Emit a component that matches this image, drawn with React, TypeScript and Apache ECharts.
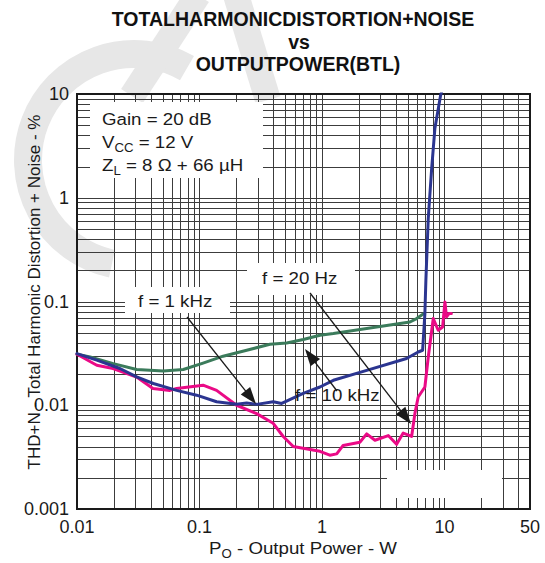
import React, { useEffect, useRef } from 'react';
import * as echarts from 'echarts';

// ---- axes ----
const X_MIN = 0.01;
const X_MAX = 50;
const Y_MIN = 0.001;
const Y_MAX = 10;
const X_GRID = [0.02, 0.03, 0.04, 0.05, 0.06, 0.07, 0.08, 0.09, 0.1, 0.2, 0.3, 0.4, 0.5, 0.6, 0.7, 0.8, 0.9, 1, 2, 3, 4, 5, 6, 7, 8, 9, 10, 20, 30, 40];
const Y_GRID = [0.002, 0.003, 0.004, 0.005, 0.006, 0.007, 0.008, 0.009, 0.01, 0.02, 0.03, 0.04, 0.05, 0.06, 0.07, 0.08, 0.09, 0.1, 0.2, 0.3, 0.4, 0.5, 0.6, 0.7, 0.8, 0.9, 1, 2, 3, 4, 5, 6, 7, 8, 9];

// ---- curves (Output power W, THD+N %) ----
const GREEN_P = [0.01, 0.0128, 0.0198, 0.0307, 0.0506, 0.0738, 0.107, 0.156, 0.243, 0.376, 0.515, 0.704, 0.963, 1.24, 2.32, 5.23, 5.93, 6.81];
const GREEN_THD = [0.031, 0.0292, 0.0252, 0.0221, 0.0214, 0.0221, 0.0255, 0.0297, 0.0339, 0.0387, 0.0398, 0.043, 0.0473, 0.0491, 0.0548, 0.0635, 0.0685, 0.0765];

const BLUE_P = [0.01, 0.0145, 0.0224, 0.0307, 0.042, 0.0651, 0.0948, 0.138, 0.201, 0.243, 0.293, 0.4, 0.469, 0.704, 0.963, 1.24, 2.32, 4.91, 6.11, 6.64, 6.93, 7.06, 7.38, 7.87, 8.36, 9.31, 9.6];
const BLUE_THD = [0.0315, 0.0272, 0.0226, 0.0188, 0.0162, 0.0139, 0.0125, 0.0108, 0.0102, 0.0105, 0.0102, 0.0108, 0.0104, 0.013, 0.015, 0.0174, 0.0217, 0.0282, 0.0326, 0.0339, 0.0765, 0.16, 0.63, 1.91, 4.64, 9.73, 11];

const PINK_P = [0.01, 0.0145, 0.0197, 0.0307, 0.0417, 0.0574, 0.0651, 0.107, 0.138, 0.201, 0.293, 0.4, 0.483, 0.583, 0.963, 1.16, 1.32, 1.49, 2.04, 2.32, 2.71, 3.48, 4.07, 4.61, 5.4, 5.74, 6.11, 6.93, 7.38, 8.11, 8.9, 9.67, 10.1, 10.4, 10.9, 11.4];
const PINK_THD = [0.031, 0.0243, 0.0226, 0.0187, 0.0145, 0.0139, 0.0145, 0.0156, 0.0139, 0.01, 0.0083, 0.0067, 0.005, 0.004, 0.0036, 0.0033, 0.0034, 0.0041, 0.0044, 0.0053, 0.0046, 0.0051, 0.0042, 0.0054, 0.005, 0.0083, 0.012, 0.015, 0.029, 0.0685, 0.0528, 0.0568, 0.099, 0.071, 0.0765, 0.0765];

const FONT = "'Liberation Sans', Arial, Helvetica, sans-serif";
const INK = '#1a1a1a';
const WATERMARK = '#e7e7e7';

function zip(a: number[], b: number[]) {
  return a.map((v, i) => [v, b[i]]);
}

function arrow(sx: number, sy: number, tx: number, ty: number) {
  const dx = tx - sx;
  const dy = ty - sy;
  const len = Math.hypot(dx, dy);
  const ux = dx / len;
  const uy = dy / len;
  const L = 17;
  const W = 6;
  const bx = tx - ux * L;
  const by = ty - uy * L;
  return [
    {
      type: 'line',
      z: 12,
      silent: true,
      shape: { x1: sx, y1: sy, x2: bx + ux * 3, y2: by + uy * 3 },
      style: { stroke: INK, lineWidth: 1.3 },
    },
    {
      type: 'polygon',
      z: 12,
      silent: true,
      shape: { points: [[tx, ty], [bx - uy * W, by + ux * W], [bx + uy * W, by - ux * W]] },
      style: { fill: INK },
    },
  ];
}

const subRich = {
  n: { fontFamily: FONT, fontSize: 17, lineHeight: 24, color: INK },
  s: { fontFamily: FONT, fontSize: 12, lineHeight: 12, color: INK, verticalAlign: 'bottom' },
};

function label(text: string, x: number, y: number, align = 'left') {
  return {
    type: 'text',
    z: 13,
    silent: true,
    x,
    y,
    scaleX: 1.1,
    style: {
      text,
      rich: subRich,
      fontFamily: FONT,
      fontSize: 17,
      fill: INK,
      align,
      verticalAlign: 'middle',
    },
  };
}

function whiteBox(x1: number, y1: number, x2: number, y2: number) {
  return {
    type: 'rect',
    z: 10,
    silent: true,
    shape: { x: x1, y: y1, width: x2 - x1, height: y2 - y1 },
    style: { fill: '#ffffff' },
  };
}

export default function App() {
  const ref = useRef<HTMLDivElement>(null);
  useEffect(() => {
    const chart = echarts.init(ref.current!, null, { renderer: 'svg' });
    const lineStyle = (color: string) => ({ color, width: 3, join: 'round', cap: 'round' });
    const axisLabel = (margin: number) => ({
      color: INK,
      fontFamily: FONT,
      fontSize: 18,
      margin,
      showMinLabel: true,
      showMaxLabel: true,
      formatter: (v: number) => String(parseFloat(Number(v).toPrecision(4))),
    });
    const deg = Math.PI / 180;
    const option: any = {
      animation: false,
      backgroundColor: '#ffffff',
      grid: {
        left: 77,
        right: 15,
        top: 94,
        bottom: 54,
        show: true,
        borderColor: '#1a1a1a',
        borderWidth: 2,
        backgroundColor: 'transparent',
        z: 4,
      },
      xAxis: {
        type: 'log',
        logBase: 10,
        min: X_MIN,
        max: X_MAX,
        axisLine: { show: false },
        axisTick: { show: false },
        splitLine: { show: false },
        axisLabel: axisLabel(9),
      },
      yAxis: {
        type: 'log',
        logBase: 10,
        min: Y_MIN,
        max: Y_MAX,
        axisLine: { show: false },
        axisTick: { show: false },
        splitLine: { show: false },
        axisLabel: axisLabel(8),
      },
      series: [
        {
          type: 'custom',
          silent: true,
          z: 1,
          clip: false,
          data: X_GRID.map((v) => [v, 1]),
          renderItem: (_p: any, api: any) => {
            const v = api.value(0);
            const a = api.coord([v, Y_MIN]);
            const b = api.coord([v, Y_MAX]);
            const px = Math.round(a[0]) + 0.5;
            return { type: 'line', shape: { x1: px, y1: a[1], x2: px, y2: b[1] }, style: { stroke: '#3c3c3c', lineWidth: 1 } };
          },
        },
        {
          type: 'custom',
          silent: true,
          z: 1,
          clip: false,
          data: Y_GRID.map((v) => [1, v]),
          renderItem: (_p: any, api: any) => {
            const v = api.value(1);
            const a = api.coord([X_MIN, v]);
            const b = api.coord([X_MAX, v]);
            const py = Math.round(a[1]) + 0.5;
            return { type: 'line', shape: { x1: a[0], y1: py, x2: b[0], y2: py }, style: { stroke: '#3c3c3c', lineWidth: 1 } };
          },
        },
        { type: 'line', name: 'green', z: 5, showSymbol: false, clip: true, data: zip(GREEN_P, GREEN_THD), lineStyle: lineStyle('#3b7b5b') },
        { type: 'line', name: 'pink', z: 6, showSymbol: false, clip: true, data: zip(PINK_P, PINK_THD), lineStyle: lineStyle('#ea0a86') },
        { type: 'line', name: 'blue', z: 7, showSymbol: false, clip: true, data: zip(BLUE_P, BLUE_THD), lineStyle: lineStyle('#2b3590') },
      ],
      graphic: [
        // faint watermark strokes behind the chart
        {
          type: 'arc',
          z: -10,
          silent: true,
          shape: { cx: 134, cy: 160, r: 106, startAngle: 102 * deg, endAngle: 300 * deg, clockwise: true },
          style: { stroke: WATERMARK, lineWidth: 28, fill: 'none' },
        },
        {
          type: 'line',
          z: -10,
          silent: true,
          shape: { x1: 132, y1: 96, x2: 198, y2: -5 },
          style: { stroke: WATERMARK, lineWidth: 26 },
        },
        {
          type: 'line',
          z: -10,
          silent: true,
          shape: { x1: 236, y1: -5, x2: 268, y2: 100 },
          style: { stroke: WATERMARK, lineWidth: 26 },
        },
        whiteBox(90, 102, 263, 178),
        whiteBox(125, 287, 230, 313),
        whiteBox(247, 263, 355, 295),
        whiteBox(387, 470, 502, 498),
        label('{n|Gain = 20 dB}', 102, 119),
        label('{n|V}{s|CC}{n| = 12 V}', 102, 142),
        label('{n|Z}{s|L}{n| = 8 Ω + 66 µH}', 102, 165),
        label('{n|f = 1 kHz}', 138, 301),
        label('{n|f = 20 Hz}', 262, 278),
        label('{n|f = 10 kHz}', 295, 395),
        ...arrow(187, 317, 256, 404),
        ...arrow(310, 293, 411, 424),
        ...arrow(337, 391, 305, 349),
        {
          type: 'text',
          z: 13,
          silent: true,
          x: 293,
          y: 19,
          style: {
            text: 'TOTALHAR{m|M}ON{m|I}CDISTORTION+NOISE',
            rich: { m: { fontFamily: FONT, fontSize: 19.5, fontWeight: 'bold', color: '#5a4a1e' } },
            fontFamily: FONT,
            fontSize: 19.5,
            fontWeight: 'bold',
            fill: '#111',
            align: 'center',
            verticalAlign: 'middle',
          },
        },
        {
          type: 'text',
          z: 13,
          silent: true,
          x: 299,
          y: 42,
          style: { text: 'vs', fontFamily: FONT, fontSize: 19.5, fontWeight: 'bold', fill: '#111', align: 'center', verticalAlign: 'middle' },
        },
        {
          type: 'text',
          z: 13,
          silent: true,
          x: 298,
          y: 64,
          style: { text: 'OUTPUTPOWER(BTL)', fontFamily: FONT, fontSize: 19.5, fontWeight: 'bold', fill: '#111', align: 'center', verticalAlign: 'middle' },
        },
        {
          type: 'text',
          z: 13,
          silent: true,
          x: 34,
          y: 292,
          rotation: Math.PI / 2,
          style: { text: 'THD+N - Total Harmonic Distortion + Noise - %', fontFamily: FONT, fontSize: 17, fill: INK, align: 'center', verticalAlign: 'middle' },
        },
        {
          type: 'text',
          z: 13,
          silent: true,
          x: 303,
          y: 548,
          scaleX: 1.1,
          style: { text: '{n|P}{s|O}{n| - Output Power - W}', rich: subRich, fontFamily: FONT, fontSize: 17, fill: INK, align: 'center', verticalAlign: 'middle' },
        },
      ],
    };
    chart.setOption(option);
    return () => chart.dispose();
  }, []);
  return <div ref={ref} style={{ position: 'fixed', left: 0, top: 0, width: 545, height: 563, background: '#fff' }} />;
}
